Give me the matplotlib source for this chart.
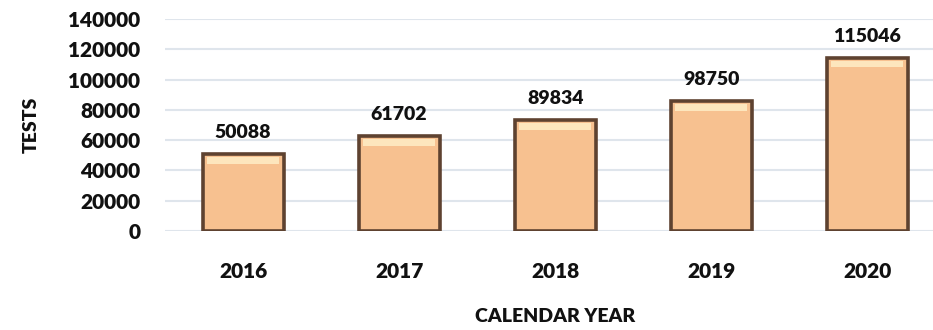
import matplotlib.pyplot as plt

years = ['2016', '2017', '2018', '2019', '2020']
bar_heights = [51000, 62800, 73500, 86000, 114600]
value_labels = ['50088', '61702', '89834', '98750', '115046']
yticks = [0, 20000, 40000, 60000, 80000, 100000, 120000, 140000]

plt.rcParams['font.family'] = ['Lato', 'DejaVu Sans']

fig = plt.figure(figsize=(9.33, 3.30), dpi=100)
ax = fig.add_axes([0.177, 0.30, 0.836, 0.642])

x = range(len(years))
ax.bar(x, bar_heights, width=0.52, color='#f7c190', edgecolor='#5e4230', linewidth=2.6, zorder=3)
# light strip just under the top edge of each bar
ax.bar(x, [4200] * len(years), bottom=[h - 6500 for h in bar_heights],
       width=0.46, color='#fde6bd', linewidth=0, zorder=4)

for i, (h, lab) in enumerate(zip(bar_heights, value_labels)):
    ax.annotate(lab, (i, h), xytext=(0, 9), textcoords='offset points',
                ha='center', va='bottom', fontsize=14, fontweight='heavy', color='#111111')

ax.set_xlim(-0.5, 4.5)
ax.set_ylim(0, 140000)
ax.set_yticks(yticks)
ax.set_yticklabels([str(t) for t in yticks], fontweight='heavy')
ax.set_xticks(list(x))
ax.set_xticklabels(years, fontweight='heavy')
ax.tick_params(axis='y', length=0, pad=18, labelsize=15, labelcolor='#111111')
ax.tick_params(axis='x', length=0, pad=22, labelsize=15, labelcolor='#111111')
ax.grid(axis='y', color='#dfe5ec', linewidth=1.5, zorder=0)
for s in ax.spines.values():
    s.set_visible(False)

ax.set_ylabel('TESTS', fontsize=14, fontweight='heavy', labelpad=20, color='#111111')
fig.text(0.595, 0.04, 'CALENDAR YEAR', ha='center', va='center', fontsize=14,
         fontweight='heavy', color='#111111')

fig.savefig('out.png', dpi=100)
